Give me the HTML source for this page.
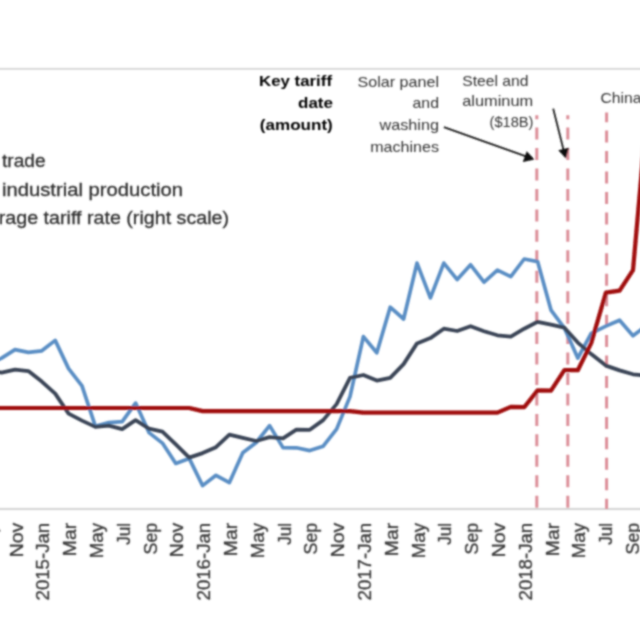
<!DOCTYPE html>
<html><head><meta charset="utf-8"><title>Chart</title>
<style>
html,body{margin:0;padding:0;background:#fff;}
body{width:640px;height:640px;overflow:hidden;}
svg{display:block;}
.lg{font-family:"Liberation Sans",sans-serif;font-size:19px;fill:#2e2e2e;stroke:#2e2e2e;stroke-width:0.3px;}
.an{font-family:"Liberation Sans",sans-serif;font-size:14.6px;fill:#333333;}
.ab{font-family:"Liberation Sans",sans-serif;font-size:15px;fill:#000000;font-weight:bold;}
.ax{font-family:"Liberation Sans",sans-serif;font-size:18px;fill:#383838;stroke:#383838;stroke-width:0.3px;}
</style></head>
<body>
<svg width="640" height="640" viewBox="0 0 640 640">
<defs><filter id="bl" filterUnits="userSpaceOnUse" x="-20" y="-20" width="680" height="680"><feConvolveMatrix order="5" kernelMatrix="1 8 16 8 1 8 64 128 64 8 16 128 256 128 16 8 64 128 64 8 1 8 16 8 1" divisor="1156" edgeMode="duplicate"/></filter></defs>
<rect width="640" height="640" fill="#fff"/>
<g filter="url(#bl)">
<g>
<line x1="-20" y1="68.8" x2="660" y2="68.8" stroke="#d4d4d4" stroke-width="1.8"/>
<line x1="-20" y1="509" x2="660" y2="509" stroke="#d4d4d4" stroke-width="1.8"/>
<line x1="536.8" y1="509" x2="536.8" y2="115.3" stroke="#dc8e98" stroke-width="3" stroke-dasharray="12 8.45" stroke-dashoffset="19.15"/>
<line x1="567.8" y1="509" x2="567.8" y2="115.3" stroke="#dc8e98" stroke-width="3" stroke-dasharray="12 8.45" stroke-dashoffset="19.15"/>
<line x1="606.6" y1="509" x2="606.6" y2="112.5" stroke="#dc8e98" stroke-width="3" stroke-dasharray="12 8.45" stroke-dashoffset="1.7"/>
<g fill="none" stroke-linejoin="round" stroke-linecap="round">
<polyline points="-11.8,364.6 1.6,358.1 15.0,349.6 28.4,352.4 41.8,350.8 55.2,340.4 68.6,368.6 82.0,385.9 95.4,426.4 108.8,422.6 122.2,421.6 135.6,403.1 149.0,432.6 162.4,443.1 175.8,463.4 189.2,458.4 202.6,485.6 216.0,475.3 229.4,482.6 242.8,452.8 256.2,442.5 269.6,425.6 283.0,447.6 296.4,447.8 309.8,450.6 323.2,446.2 336.6,429.1 350.0,396.6 363.4,336.6 376.8,352.8 390.2,307.2 403.6,319.0 417.0,263.1 430.4,297.8 443.8,263.1 457.2,279.6 470.6,264.8 484.0,282.2 497.4,270.2 510.8,276.6 524.2,259.0 537.6,261.6 551.0,310.1 564.4,328.1 577.8,358.1 591.2,333.4 605.9,326.1 619.6,320.2 633.0,335.8 646.4,325.6" stroke="#5a8ec4" stroke-width="3.7"/>
<polyline points="-11.8,370.6 1.6,372.6 15.0,369.6 28.4,371.1 41.8,381.6 55.2,393.6 68.6,413.6 82.0,420.6 95.4,426.9 108.8,425.6 122.2,429.2 135.6,420.2 149.0,428.6 162.4,431.6 175.8,444.4 189.2,457.6 202.6,453.1 216.0,447.2 229.4,434.6 242.8,437.8 256.2,441.0 269.6,437.2 283.0,438.4 296.4,429.6 309.8,429.8 323.2,420.1 336.6,404.1 350.0,377.8 363.4,375.0 376.8,380.6 390.2,377.8 403.6,364.1 417.0,343.4 430.4,338.1 443.8,328.7 457.2,331.0 470.6,326.2 484.0,331.2 497.4,335.3 510.8,336.6 524.2,328.7 537.6,321.8 551.0,324.7 564.4,327.7 577.8,342.6 591.2,354.1 605.9,365.6 619.6,370.4 633.0,374.3 646.4,375.6" stroke="#3a4557" stroke-width="3.8"/>
<polyline points="-11.8,408.0 1.6,408.0 15.0,408.0 28.4,408.0 41.8,408.0 55.2,408.0 68.6,408.0 82.0,408.0 95.4,408.0 108.8,408.0 122.2,408.0 135.6,408.0 149.0,408.0 162.4,408.0 175.8,408.0 189.2,408.0 202.6,411.1 216.0,411.1 229.4,411.1 242.8,411.1 256.2,411.1 269.6,411.1 283.0,411.1 296.4,411.1 309.8,411.1 323.2,411.1 336.6,411.1 350.0,411.1 363.4,412.6 376.8,412.6 390.2,412.6 403.6,412.6 417.0,412.6 430.4,412.6 443.8,412.6 457.2,412.6 470.6,412.6 484.0,412.6 497.4,412.6 510.8,406.9 524.2,407.2 537.6,390.4 551.0,390.6 564.4,370.2 577.8,370.2 591.2,343.1 605.9,292.6 619.6,290.6 633.0,270.1 646.4,118.6" stroke="#a00a0a" stroke-width="4.2"/>
</g>
<g stroke="#1a1a1a" stroke-width="1.8" fill="#0a0a0a">
<line x1="443.9" y1="127.2" x2="526" y2="156.3"/>
<polygon points="534.5,159.5 522.8,161.9 526.7,151.2" stroke="none"/>
<line x1="553.2" y1="108.6" x2="563.6" y2="150"/>
<polygon points="565.9,158.6 558.3,150.3 568.9,147.7" stroke="none"/>
</g>
</g>
<g class="lg">
<text x="2" y="167" textLength="43.5" lengthAdjust="spacingAndGlyphs">trade</text>
<text x="2" y="195.6" textLength="181" lengthAdjust="spacingAndGlyphs">industrial production</text>
<text x="-1.2" y="223.6" textLength="230.2" lengthAdjust="spacingAndGlyphs">rage tariff rate (right scale)</text>
</g>
<g class="ab">
<text x="332" y="86" text-anchor="end" textLength="73" lengthAdjust="spacingAndGlyphs">Key tariff</text>
<text x="333" y="107.8" text-anchor="end" textLength="35" lengthAdjust="spacingAndGlyphs">date</text>
<text x="332.8" y="129.7" text-anchor="end" textLength="73" lengthAdjust="spacingAndGlyphs">(amount)</text>
</g>
<g class="an">
<text x="439" y="86.6" text-anchor="end" textLength="81.5" lengthAdjust="spacingAndGlyphs">Solar panel</text>
<text x="439" y="107.8" text-anchor="end" textLength="26.5" lengthAdjust="spacingAndGlyphs">and</text>
<text x="439" y="129.7" text-anchor="end" textLength="59.5" lengthAdjust="spacingAndGlyphs">washing</text>
<text x="439" y="151.6" text-anchor="end" textLength="68.8" lengthAdjust="spacingAndGlyphs">machines</text>
<text x="462.2" y="85.6" textLength="66.4" lengthAdjust="spacingAndGlyphs">Steel and</text>
<text x="462.2" y="106.3" textLength="71" lengthAdjust="spacingAndGlyphs">aluminum</text>
<text x="533.5" y="127.3" text-anchor="end" textLength="44" lengthAdjust="spacingAndGlyphs">($18B)</text>
<text x="600.5" y="102.8" textLength="41" lengthAdjust="spacingAndGlyphs">China</text>
</g>
<g class="ax">
<text transform="translate(-4.3,522.8) rotate(-90)" text-anchor="end" textLength="31.6" lengthAdjust="spacingAndGlyphs">Sep</text>
<text transform="translate(22.5,522.8) rotate(-90)" text-anchor="end" textLength="34.5" lengthAdjust="spacingAndGlyphs">Nov</text>
<text transform="translate(49.3,522.8) rotate(-90)" text-anchor="end" textLength="77.7" lengthAdjust="spacingAndGlyphs">2015-Jan</text>
<text transform="translate(76.1,522.8) rotate(-90)" text-anchor="end" textLength="33.5" lengthAdjust="spacingAndGlyphs">Mar</text>
<text transform="translate(102.9,522.8) rotate(-90)" text-anchor="end" textLength="35.5" lengthAdjust="spacingAndGlyphs">May</text>
<text transform="translate(129.7,522.8) rotate(-90)" text-anchor="end" textLength="22" lengthAdjust="spacingAndGlyphs">Jul</text>
<text transform="translate(156.5,522.8) rotate(-90)" text-anchor="end" textLength="31.6" lengthAdjust="spacingAndGlyphs">Sep</text>
<text transform="translate(183.3,522.8) rotate(-90)" text-anchor="end" textLength="34.5" lengthAdjust="spacingAndGlyphs">Nov</text>
<text transform="translate(210.1,522.8) rotate(-90)" text-anchor="end" textLength="77.7" lengthAdjust="spacingAndGlyphs">2016-Jan</text>
<text transform="translate(236.9,522.8) rotate(-90)" text-anchor="end" textLength="33.5" lengthAdjust="spacingAndGlyphs">Mar</text>
<text transform="translate(263.7,522.8) rotate(-90)" text-anchor="end" textLength="35.5" lengthAdjust="spacingAndGlyphs">May</text>
<text transform="translate(290.5,522.8) rotate(-90)" text-anchor="end" textLength="22" lengthAdjust="spacingAndGlyphs">Jul</text>
<text transform="translate(317.3,522.8) rotate(-90)" text-anchor="end" textLength="31.6" lengthAdjust="spacingAndGlyphs">Sep</text>
<text transform="translate(344.1,522.8) rotate(-90)" text-anchor="end" textLength="34.5" lengthAdjust="spacingAndGlyphs">Nov</text>
<text transform="translate(370.9,522.8) rotate(-90)" text-anchor="end" textLength="77.7" lengthAdjust="spacingAndGlyphs">2017-Jan</text>
<text transform="translate(397.7,522.8) rotate(-90)" text-anchor="end" textLength="33.5" lengthAdjust="spacingAndGlyphs">Mar</text>
<text transform="translate(424.5,522.8) rotate(-90)" text-anchor="end" textLength="35.5" lengthAdjust="spacingAndGlyphs">May</text>
<text transform="translate(451.3,522.8) rotate(-90)" text-anchor="end" textLength="22" lengthAdjust="spacingAndGlyphs">Jul</text>
<text transform="translate(478.1,522.8) rotate(-90)" text-anchor="end" textLength="31.6" lengthAdjust="spacingAndGlyphs">Sep</text>
<text transform="translate(504.9,522.8) rotate(-90)" text-anchor="end" textLength="34.5" lengthAdjust="spacingAndGlyphs">Nov</text>
<text transform="translate(531.7,522.8) rotate(-90)" text-anchor="end" textLength="77.7" lengthAdjust="spacingAndGlyphs">2018-Jan</text>
<text transform="translate(558.5,522.8) rotate(-90)" text-anchor="end" textLength="33.5" lengthAdjust="spacingAndGlyphs">Mar</text>
<text transform="translate(585.3,522.8) rotate(-90)" text-anchor="end" textLength="35.5" lengthAdjust="spacingAndGlyphs">May</text>
<text transform="translate(612.1,522.8) rotate(-90)" text-anchor="end" textLength="22" lengthAdjust="spacingAndGlyphs">Jul</text>
<text transform="translate(638.9,522.8) rotate(-90)" text-anchor="end" textLength="31.6" lengthAdjust="spacingAndGlyphs">Sep</text>
</g>
</g>
</svg>
</body></html>
